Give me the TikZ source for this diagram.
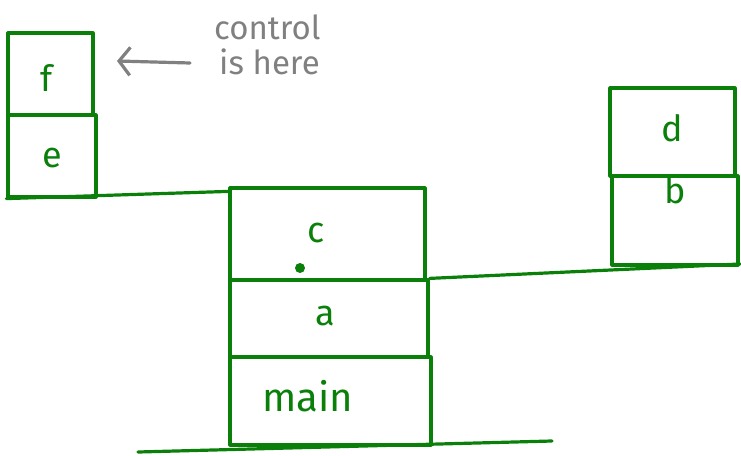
\documentclass[tikz,border=0pt]{standalone}
\usepackage{fontspec}
\setmainfont{Fira Sans}
\usetikzlibrary{arrows.meta,calc}
\definecolor{pen}{RGB}{10,128,10}
\definecolor{note}{RGB}{128,128,128}
\tikzset{
  box/.style={draw=pen, line width=3.2pt, line cap=round, line join=round, inner sep=0pt},
  lbl/.style={text=pen, font=\fontsize{36}{40}\selectfont, inner sep=0pt},
  ground/.style={draw=pen, line width=3.2pt, line cap=round},
  notetext/.style={text=note, font=\fontsize{33}{35}\selectfont, align=left, inner sep=0pt},
  pointer/.style={draw=note, line width=3.2pt, line cap=round, -{Straight Barb[length=11pt,width=28pt,line width=3.2pt]}}
}
\begin{document}
\begin{tikzpicture}[x=1pt,y=-1pt]
\useasboundingbox (0,0) rectangle (741,455);
% boxes
\node[box, minimum width=85pt, minimum height=82pt] (f) at (50.5,74) {};
\node[box, minimum width=88pt, minimum height=82pt] (e) at (52,156) {};
\node[box, minimum width=195pt, minimum height=92pt] (c) at (327.5,234) {};
\node[box, minimum width=198pt, minimum height=77pt] (a) at (329,318.5) {};
\node[box, minimum width=201pt, minimum height=88pt] (m) at (330.5,401) {};
\node[box, minimum width=125pt, minimum height=88pt] (d) at (672.5,132) {};
\node[box, minimum width=126pt, minimum height=89pt] (b) at (675,220.5) {};
% labels
\node[lbl] (lf) at (47,78) {f};
\node[lbl] (le) at (52,158) {e};
\node[lbl] (lc) at (316,233) {c};
\fill[pen] (300,268) circle (5pt) coordinate (dot);
\node[lbl] (la) at (325,316) {a};
\node[lbl, font=\fontsize{40}{44}\selectfont] (lm) at (308,396) {main};
\node[lbl] (ld) at (672,128) {d};
\node[lbl] (lb) at (675,190) {b};
% ground lines
\coordinate (rend) at (740,264);
\coordinate (g1) at (138,452);
\coordinate (g2) at (552,441);
\draw[ground] (e.south west) -- ($(c.north west)+(0,5)$);
\draw[ground] (a.north east) -- (rend);
\draw[ground] (g1) -- (g2);
% note
\node[notetext, anchor=north west] (ctl) at (214,15) {control\\\hspace*{5pt}is here};
\coordinate (ptail) at (190,63);
\coordinate (ptip) at (117,61);
\draw[pointer] (ptail) -- (ptip);
\end{tikzpicture}
\end{document}
